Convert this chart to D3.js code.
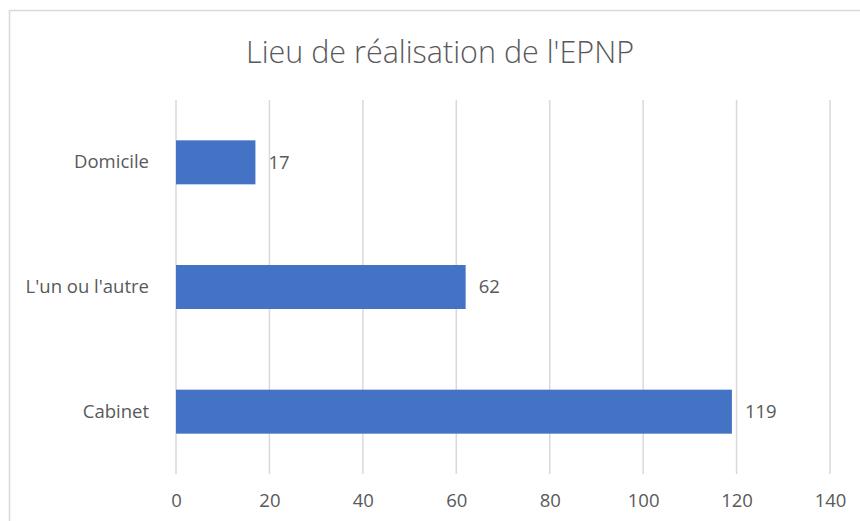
<!DOCTYPE html>
<html>
<head>
<meta charset="utf-8">
<script src="https://cdn.jsdelivr.net/npm/d3@7.9.0/dist/d3.min.js"></script>
<style>
    body { margin: 0; background: #fff; }
    svg { display: block; }
    text { font-family: 'Open Sans', sans-serif; fill: #595959; }
</style>
</head>
<body>
<svg id="chart" width="860" height="521"></svg>
<script>
const categories = ['Domicile', "L'un ou l'autre", 'Cabinet'];
const values = [17, 62, 119];
const xTicks = [0, 20, 40, 60, 80, 100, 120, 140];
const title = "Lieu de réalisation de l'EPNP";

const svg = d3.select('#chart');

// chart frame (runs off the right and bottom edges)
svg.append('rect')
    .attr('x', 9.5).attr('y', 10.5)
    .attr('width', 900).attr('height', 600)
    .attr('fill', 'none')
    .attr('stroke', '#d9d9d9')
    .attr('stroke-width', 1.5);

svg.append('text')
    .attr('x', 440).attr('y', 63)
    .attr('text-anchor', 'middle')
    .style('font-size', '30.5px')
    .style('font-weight', 300)
    .text(title);

const x = d3.scaleLinear().domain([0, 140]).range([176, 830]);
const y = d3.scaleBand()
    .domain(categories)
    .range([100, 474])
    .paddingInner(0.647)
    .paddingOuter(0.3235);

// gridlines
svg.append('g')
    .selectAll('line')
    .data(xTicks)
    .join('line')
    .attr('x1', d => x(d)).attr('x2', d => x(d))
    .attr('y1', 100).attr('y2', 474)
    .attr('stroke', '#d9d9d9')
    .attr('stroke-width', 1.5);

const xAxis = svg.append('g')
    .attr('transform', 'translate(0,474)')
    .call(d3.axisBottom(x).tickValues(xTicks).tickSize(0).tickPadding(20));
xAxis.select('.domain').remove();
xAxis.selectAll('text').style('font-size', '18.5px').style('fill', '#595959').style('font-family', "'Open Sans', sans-serif");

const yAxis = svg.append('g')
    .attr('transform', 'translate(149,0)')
    .call(d3.axisLeft(y).tickSize(0).tickPadding(0));
yAxis.select('.domain').remove();
yAxis.selectAll('text').style('font-size', '18.5px').style('fill', '#595959').style('font-family', "'Open Sans', sans-serif");

svg.append('g')
    .selectAll('rect')
    .data(values)
    .join('rect')
    .attr('x', x(0))
    .attr('y', (d, i) => y(categories[i]))
    .attr('width', d => x(d) - x(0))
    .attr('height', y.bandwidth())
    .attr('fill', '#4472c4');

svg.append('g')
    .selectAll('text')
    .data(values)
    .join('text')
    .attr('x', d => x(d) + 13)
    .attr('y', (d, i) => y(categories[i]) + y.bandwidth() / 2)
    .attr('dy', '0.35em')
    .style('font-size', '18.5px')
    .text(d => d);
</script>
</body>
</html>
